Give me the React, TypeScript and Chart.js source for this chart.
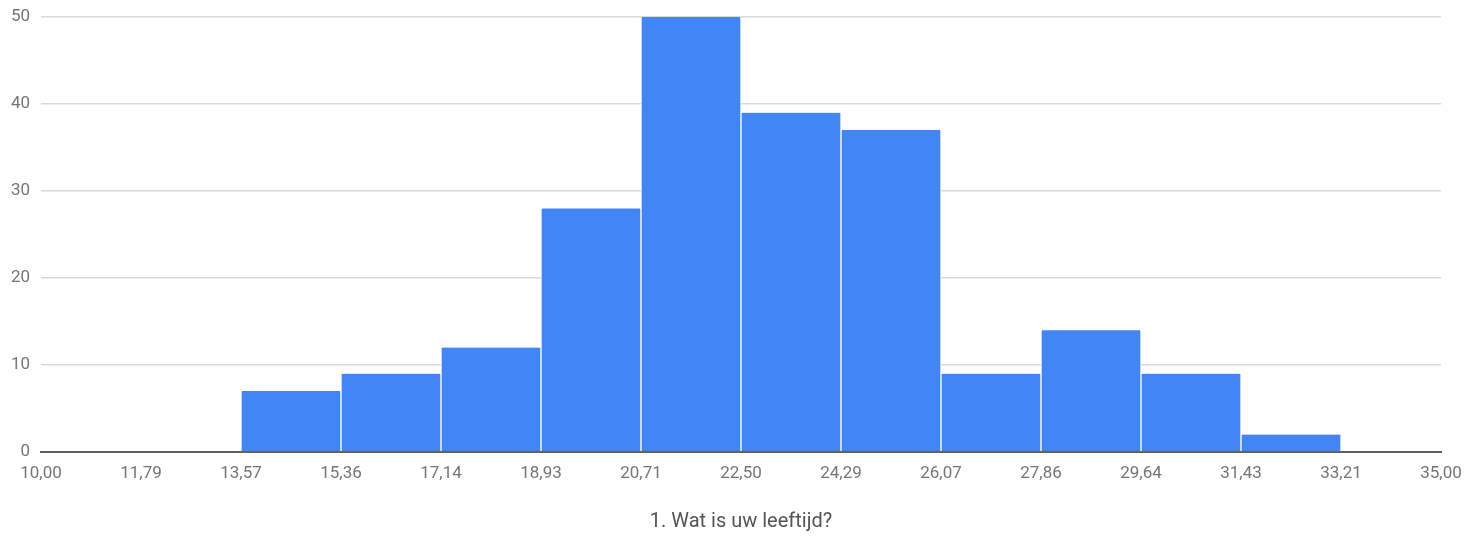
import React, { useEffect, useRef } from "react";
import { Chart, registerables } from "chart.js";

Chart.register(...registerables);

const binEdges = [10, 11.7857, 13.5714, 15.3571, 17.1429, 18.9286, 20.7143, 22.5, 24.2857, 26.0714, 27.8571, 29.6429, 31.4286, 33.2143, 35];
const tickLabels = ["10,00", "11,79", "13,57", "15,36", "17,14", "18,93", "20,71", "22,50", "24,29", "26,07", "27,86", "29,64", "31,43", "33,21", "35,00"];
const counts = [0, 0, 7, 9, 12, 28, 50, 39, 37, 9, 14, 9, 2, 0];
const yTicks = [0, 10, 20, 30, 40, 50];
const xTitle = "1. Wat is uw leeftijd?";

export default function App() {
  const ref = useRef<HTMLCanvasElement>(null);
  useEffect(() => {
    if (!ref.current) return;
    const data = counts.map((c, i) => ({ x: (binEdges[i] + binEdges[i + 1]) / 2, y: c }));
    const chart = new Chart(ref.current, {
      type: "bar",
      data: {
        datasets: [
          {
            data: data as any,
            backgroundColor: "#4285F4",
            borderColor: "#ffffff",
            borderWidth: { left: 1, right: 1, top: 0, bottom: 0 } as any,
            borderSkipped: "bottom",
            borderRadius: { topLeft: 2, topRight: 2, bottomLeft: 0, bottomRight: 0 },
            barPercentage: 1,
            categoryPercentage: 1,
            order: 1,
          },
        ],
      },
      options: {
        animation: false,
        responsive: true,
        maintainAspectRatio: false,
        layout: { padding: { left: 0, right: 41, top: 17, bottom: 0 } },
        plugins: { legend: { display: false }, tooltip: { enabled: false } },
        scales: {
          x: {
            type: "linear",
            min: binEdges[0],
            max: binEdges[binEdges.length - 1],
            offset: false,
            afterBuildTicks: (scale: any) => {
              scale.ticks = binEdges.map((v) => ({ value: v }));
            },
            afterFit: (scale: any) => {
              scale.height = 85;
              scale.paddingLeft = 0;
              scale.paddingRight = 0;
            },
            ticks: {
              autoSkip: false,
              maxRotation: 0,
              padding: 12,
              color: "#757575",
              font: { family: "Roboto", size: 17 },
              callback: (_v: any, i: number) => tickLabels[i],
            },
            grid: { display: false, drawTicks: false },
            border: { display: true, color: "#5f5f5f", width: 2 },
            title: {
              display: true,
              text: xTitle,
              color: "#555555",
              font: { family: "Roboto", size: 20 },
              padding: { top: 0, bottom: 3 },
            },
          },
          y: {
            min: 0,
            max: 50,
            afterBuildTicks: (scale: any) => {
              scale.ticks = yTicks.map((v) => ({ value: v }));
            },
            afterFit: (scale: any) => {
              scale.width = 41;
              scale.paddingTop = 0;
              scale.paddingBottom = 0;
            },
            ticks: {
              padding: 11,
              color: "#757575",
              font: { family: "Roboto", size: 17 },
            },
            grid: { color: "#d9d9d9", lineWidth: 1.5, drawTicks: false },
            border: { display: false },
          },
        },
      },
    });
    return () => chart.destroy();
  }, []);
  return (
    <div style={{ position: "absolute", left: 0, top: 0, width: 1482, height: 537, background: "#fff" }}>
      <canvas ref={ref} />
    </div>
  );
}
